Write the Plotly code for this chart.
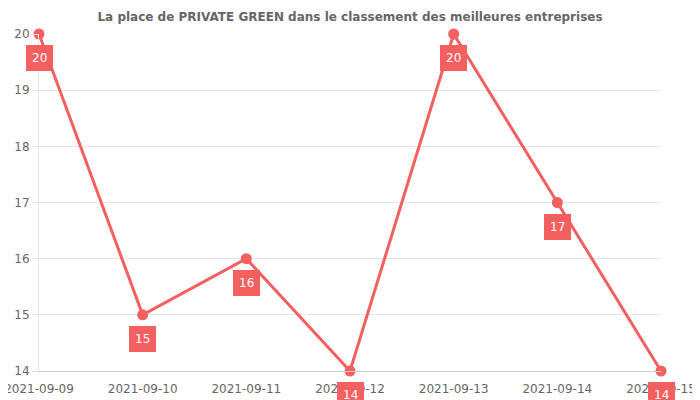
import plotly.graph_objects as go

dates = ["2021-09-09", "2021-09-10", "2021-09-11", "2021-09-12", "2021-09-13", "2021-09-14", "2021-09-15"]
ranks = [20, 15, 16, 14, 20, 17, 14]
title = "La place de PRIVATE GREEN dans le classement des meilleures entreprises"

red = "#f45f5f"

fig = go.Figure()
fig.add_trace(go.Scatter(
    x=dates, y=ranks, mode="lines+markers",
    line=dict(color=red, width=3),
    marker=dict(color=red, size=11),
    cliponaxis=False, hoverinfo="skip",
))

for d, r in zip(dates, ranks):
    fig.add_annotation(
        x=d, y=r, text=str(r), showarrow=False, yshift=-24,
        bgcolor=red, bordercolor=red, borderpad=5,
        font=dict(color="white", size=12, family="DejaVu Sans"),
    )

fig.update_layout(
    width=700, height=400,
    margin=dict(l=31, r=47, t=26, b=37, autoexpand=False),
    paper_bgcolor="white", plot_bgcolor="white",
    showlegend=False,
    font=dict(family="DejaVu Sans", size=12, color="#666666"),
    title=dict(text="<b>" + title + "</b>", x=0.4886, xanchor="center", y=0.9775, yanchor="middle",
               font=dict(size=12, color="#666666", family="DejaVu Sans")),
)
fig.update_xaxes(
    type="category", range=[0, 6], showgrid=False, automargin=False,
    showline=True, linecolor="#cccccc", linewidth=1,
    ticks="outside", ticklen=7, tickcolor="rgba(0,0,0,0)",
    tickfont=dict(size=12, color="#666666"),
)
fig.update_yaxes(
    range=[14, 20], dtick=1, showgrid=True, gridcolor="#e6e6e6", gridwidth=1,
    showline=True, linecolor="#e6e6e6", zeroline=False, automargin=False,
    ticks="outside", ticklen=6, tickcolor="#e6e6e6",
    tickfont=dict(size=12, color="#666666"),
)

fig.write_html("out.html")
